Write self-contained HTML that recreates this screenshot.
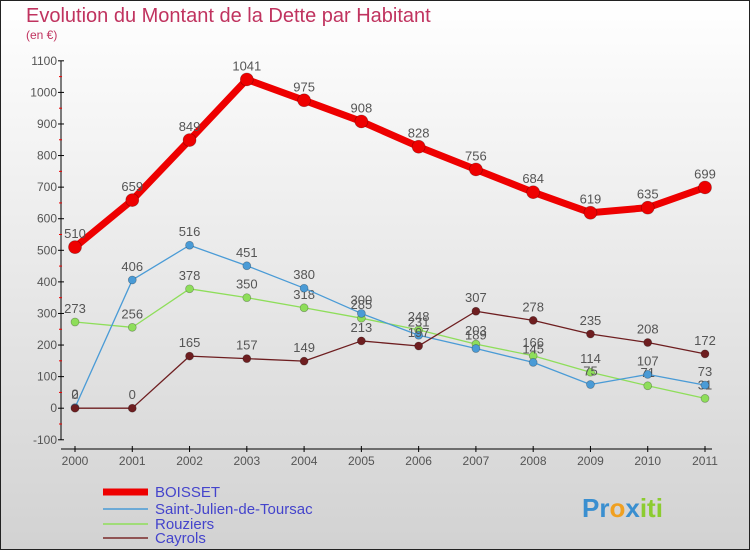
<!DOCTYPE html>
<html><head><meta charset="utf-8"><style>
body{margin:0;}
#c{width:750px;height:550px;position:relative;overflow:hidden;font-family:"Liberation Sans","DejaVu Sans",sans-serif;}
</style></head><body>
<div id="c">
<svg id="s" width="750" height="550" xmlns="http://www.w3.org/2000/svg">
<defs><linearGradient id="bg" x1="0" y1="0" x2="0" y2="1"><stop offset="0" stop-color="#ffffff"/><stop offset="1" stop-color="#d2d2d2"/></linearGradient></defs>
<rect x="0.5" y="0.5" width="749" height="549" fill="url(#bg)" stroke="#222"/>
<text x="26" y="22" font-size="20" fill="#c0335f">Evolution du Montant de la Dette par Habitant</text>
<text x="26" y="39" font-size="12" fill="#c0335f">(en €)</text>
<g id="axes"></g><g id="plot"></g>
<g font-size="15">
<line x1="103" y1="492" x2="148" y2="492" stroke="#ee0000" stroke-width="7"/>
<text x="155" y="497" fill="#4444cc">BOISSET</text>
<line x1="103" y1="509" x2="148" y2="509" stroke="#4a9bd6" stroke-width="1.5"/>
<text x="155" y="514" fill="#4444cc">Saint-Julien-de-Toursac</text>
<line x1="103" y1="524" x2="148" y2="524" stroke="#8ede5a" stroke-width="1.5"/>
<text x="155" y="529" fill="#4444cc">Rouziers</text>
<line x1="103" y1="538" x2="148" y2="538" stroke="#7a2a2a" stroke-width="1.5"/>
<text x="155" y="543" fill="#4444cc">Cayrols</text>
</g>
<text x="582" y="517" font-size="26" font-weight="bold"><tspan fill="#3a8fd0">Pr</tspan><tspan fill="#f0a020">o</tspan><tspan fill="#3a8fd0">x</tspan><tspan fill="#8ccc30">iti</tspan></text>
</svg></div>
<script>
const years=["2000","2001","2002","2003","2004","2005","2006","2007","2008","2009","2010","2011"];
const yTicks=[-100,0,100,200,300,400,500,600,700,800,900,1000,1100];
const boisset=[510,659,849,1041,975,908,828,756,684,619,635,699];
const stJulien=[2,406,516,451,380,300,231,189,145,75,107,73];
const rouziers=[273,256,378,350,318,285,248,203,166,114,71,31];
const cayrols=[0,0,165,157,149,213,197,307,278,235,208,172];
const NS="http://www.w3.org/2000/svg";
const X=i=>75+i*(630/11);
const Y=v=>408.2-v*0.3158;
function mk(t,a,p){const e=document.createElementNS(NS,t);for(const k in a)e.setAttribute(k,a[k]);p.appendChild(e);return e;}
const ax=document.getElementById('axes'),pl=document.getElementById('plot');
let l=mk('line',{x1:61,y1:Y(1100),x2:61,y2:Y(-100),stroke:'#000'},ax);

l=mk('line',{x1:61,y1:449,x2:712,y2:449,stroke:'#000'},ax);

yTicks.forEach((v,i)=>{mk('line',{x1:58,y1:Y(v),x2:64,y2:Y(v),stroke:'#000'},ax);
 if(i<yTicks.length-1)mk('line',{x1:59,y1:Y(v+50),x2:62,y2:Y(v+50),stroke:'#e00'},ax);
 const t=mk('text',{x:57,y:Y(v)+4,'text-anchor':'end','font-size':12,fill:'#555'},ax);t.textContent=v;
 });
years.forEach((y,i)=>{mk('line',{x1:X(i),y1:446,x2:X(i),y2:452,stroke:'#000'},ax);
 const t=mk('text',{x:X(i),y:465,'text-anchor':'middle','font-size':12,fill:'#555'},ax);t.textContent=y;
 });
function series(d,col,w,r,name){
 const g=mk('g',{},pl);
 mk('polyline',{points:d.map((v,i)=>X(i)+','+Y(v)).join(' '),fill:'none',stroke:col,'stroke-width':w,'stroke-linejoin':'round'},g);
 d.forEach((v,i)=>{const c=mk('circle',{cx:X(i),cy:Y(v),r:r,fill:col,stroke:'rgba(0,0,0,0.3)','stroke-width':0.7},g);
  
  const t=mk('text',{x:X(i),y:Y(v)-9,'text-anchor':'middle','font-size':13,fill:'#555'},g);t.textContent=v;
  });
}
series(rouziers,'#8ede5a',1.3,4,'rouziers-series');
series(stJulien,'#4a9bd6',1.3,4,'saint-julien-series');
series(cayrols,'#6e1e20',1.3,4,'cayrols-series');
series(boisset,'#ee0000',7,6.5,'boisset-series');
</script>
</body></html>
